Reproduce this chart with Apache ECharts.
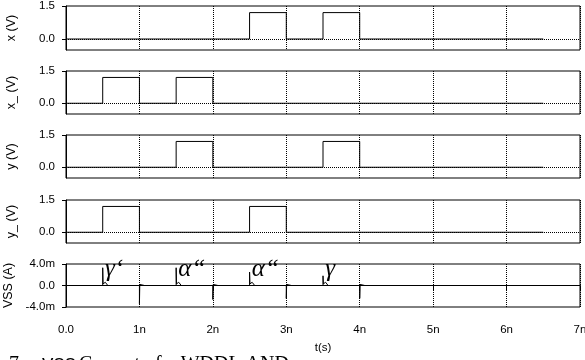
<!DOCTYPE html>
<html>
<head>
<meta charset="utf-8">
<script src="https://cdn.jsdelivr.net/npm/echarts@6/dist/echarts.min.js"></script>
<style>html,body{margin:0;padding:0;background:#fff;}#c{width:585px;height:360px;}</style>
</head>
<body>
<div id="c"></div>
<script>
// ---- data (time in ns, voltages in V, current in mA) ----
var stepTimes = [0, 0.5, 1.0, 1.5, 2.0, 2.5, 3.0, 3.5, 4.0, 6.5];
var xVals     = [0, 0,   0,   0,   0,   1.2, 0,   1.2, 0,   0];
var xbVals    = [0, 1.2, 0,   1.2, 0,   0,   0,   0,   0,   0];
var yVals     = [0, 0,   0,   1.2, 0,   0,   0,   1.2, 0,   0];
var ybVals    = [0, 1.2, 0,   0,   0,   1.2, 0,   0,   0,   0];

var vssTimes = [0,
  0.5, 0.5, 0.505, 0.535, 0.57,
  1.0, 1.0, 1.005, 1.03, 1.07,
  1.5, 1.5, 1.505, 1.535, 1.57,
  2.0, 2.0, 2.005, 2.03, 2.07,
  2.5, 2.5, 2.505, 2.535, 2.57,
  3.0, 3.0, 3.005, 3.03, 3.07,
  3.5, 3.5, 3.505, 3.535, 3.57,
  4.0, 4.0, 4.005, 4.03, 4.07,
  6.5];
var vssVals = [0,
  0, 3.3, 0.3, 0.6, 0,
  0, -3.4, 0.2, 0.5, 0,
  0, 3.3, 0.3, 0.6, 0,
  0, -2.6, 0.2, 0.5, 0,
  0, 2.5, 0.3, 0.6, 0,
  0, -2.4, 0.2, 0.5, 0,
  0, 1.8, 0.3, 0.6, 0,
  0, -2.4, 0.2, 0.5, 0,
  0];

var annoTimes = [0.53, 1.53, 2.53, 3.53];
var annoVals  = [2.9, 3.0, 2.9, 2.9];
var annoTexts = ['\u03B3\u2018', '\u03B1\u201C', '\u03B1\u201C', '\u03B3'];

var panelNames = ['x (V)', 'x_ (V)', 'y (V)', 'y_ (V)', 'VSS (A)'];

// ---- chart ----
var FONT = 'Liberation Sans';
var tops = [6, 71, 135, 200, 264];
var heights = [44, 43, 43, 43, 43];
function pairs(t, v) { return t.map(function (ti, i) { return [ti, v[i]]; }); }
function yFmt(v) {
  if (v === 0) return '0.0';
  if (Math.abs(v) === 4) return (v < 0 ? '-' : '') + '4.0m';
  return v.toFixed(1);
}

var grids = [], xAxes = [], yAxes = [], series = [];
var sigs = [xVals, xbVals, yVals, ybVals];
for (var i = 0; i < 5; i++) {
  grids.push({left: 66, right: 5, top: tops[i], height: heights[i], show: true,
    outerBoundsMode: 'none', containLabel: false,
    borderColor: '#000', borderWidth: 1, backgroundColor: 'transparent'});
  var last = (i === 4);
  xAxes.push({
    type: 'value', gridIndex: i, min: 0, max: 7, interval: 1,
    offset: last ? 4 : 0,
    axisLine: {show: last, lineStyle: {color: '#000', width: 1}},
    axisTick: {show: last, length: 5, lineStyle: {color: '#000'}},
    axisLabel: {show: last, margin: 13, color: '#000', fontFamily: FONT, fontSize: 11.5,
      hideOverlap: false,
      formatter: function (v) { return v === 0 ? '0.0' : v + 'n'; }},
    splitLine: {show: true, lineStyle: {color: '#000', type: 'dotted', width: 1}},
    name: last ? 't(s)' : '', nameLocation: 'middle', nameGap: 31,
    nameTextStyle: {color: '#000', fontFamily: FONT, fontSize: 11.5}
  });
  var isV = i < 4;
  var cv = isV ? [0, 1.5] : [-4, 0, 4];
  yAxes.push({
    type: 'value', gridIndex: i,
    min: isV ? -0.5 : -4, max: isV ? 1.5 : 4,
    offset: 3,
    axisLine: {show: true, lineStyle: {color: '#000', width: 1}},
    axisTick: {show: true, length: 4, customValues: cv, lineStyle: {color: '#000'}},
    axisLabel: {show: true, margin: 8, color: '#000', fontFamily: FONT, fontSize: 11.5,
      customValues: cv, formatter: yFmt},
    splitLine: {show: false},
    name: panelNames[i], nameLocation: 'middle', nameGap: 45,
    nameTextStyle: {color: '#000', fontFamily: FONT, fontSize: 12.5}
  });
  var zeroLine = {silent: true, symbol: 'none', label: {show: false},
    lineStyle: {color: '#000', type: 'dotted', width: 1}, data: [{yAxis: 0}]};
  if (isV) {
    series.push({type: 'line', xAxisIndex: i, yAxisIndex: i, step: 'end', showSymbol: false,
      data: pairs(stepTimes, sigs[i]), lineStyle: {color: '#000', width: 1}, markLine: zeroLine, animation: false});
  } else {
    series.push({type: 'line', xAxisIndex: i, yAxisIndex: i, showSymbol: false,
      data: pairs(vssTimes, vssVals), lineStyle: {color: '#000', width: 1}, markLine: zeroLine, animation: false,
      markPoint: {symbol: 'circle', symbolSize: 0, silent: true,
        data: annoTimes.map(function (t, k) {
          return {coord: [t, annoVals[k]], value: annoTexts[k]};
        }),
        label: {show: true, position: 'right', distance: 0, formatter: '{c}', color: '#000',
          fontFamily: 'Liberation Serif', fontStyle: 'italic', fontSize: 25}
      }});
  }
}

var chart = echarts.init(document.getElementById('c'), null, {renderer: 'canvas'});
chart.setOption({
  backgroundColor: '#fff',
  animation: false,
  grid: grids, xAxis: xAxes, yAxis: yAxes, series: series,
  graphic: [
    {type: 'text', x: 9, y: 355, style: {text: '7', fontFamily: 'Liberation Serif', fontSize: 20, fill: '#000', verticalAlign: 'top'}},
    {type: 'text', x: 42, y: 355, style: {text: 'VSS', fontFamily: 'Liberation Mono', fontSize: 19, fill: '#000', verticalAlign: 'top'}},
    {type: 'text', x: 79, y: 355, style: {text: 'Current of a WDDL AND', fontFamily: 'Liberation Serif', fontSize: 20, fill: '#000', verticalAlign: 'top'}}
  ]
});
</script>
</body>
</html>
